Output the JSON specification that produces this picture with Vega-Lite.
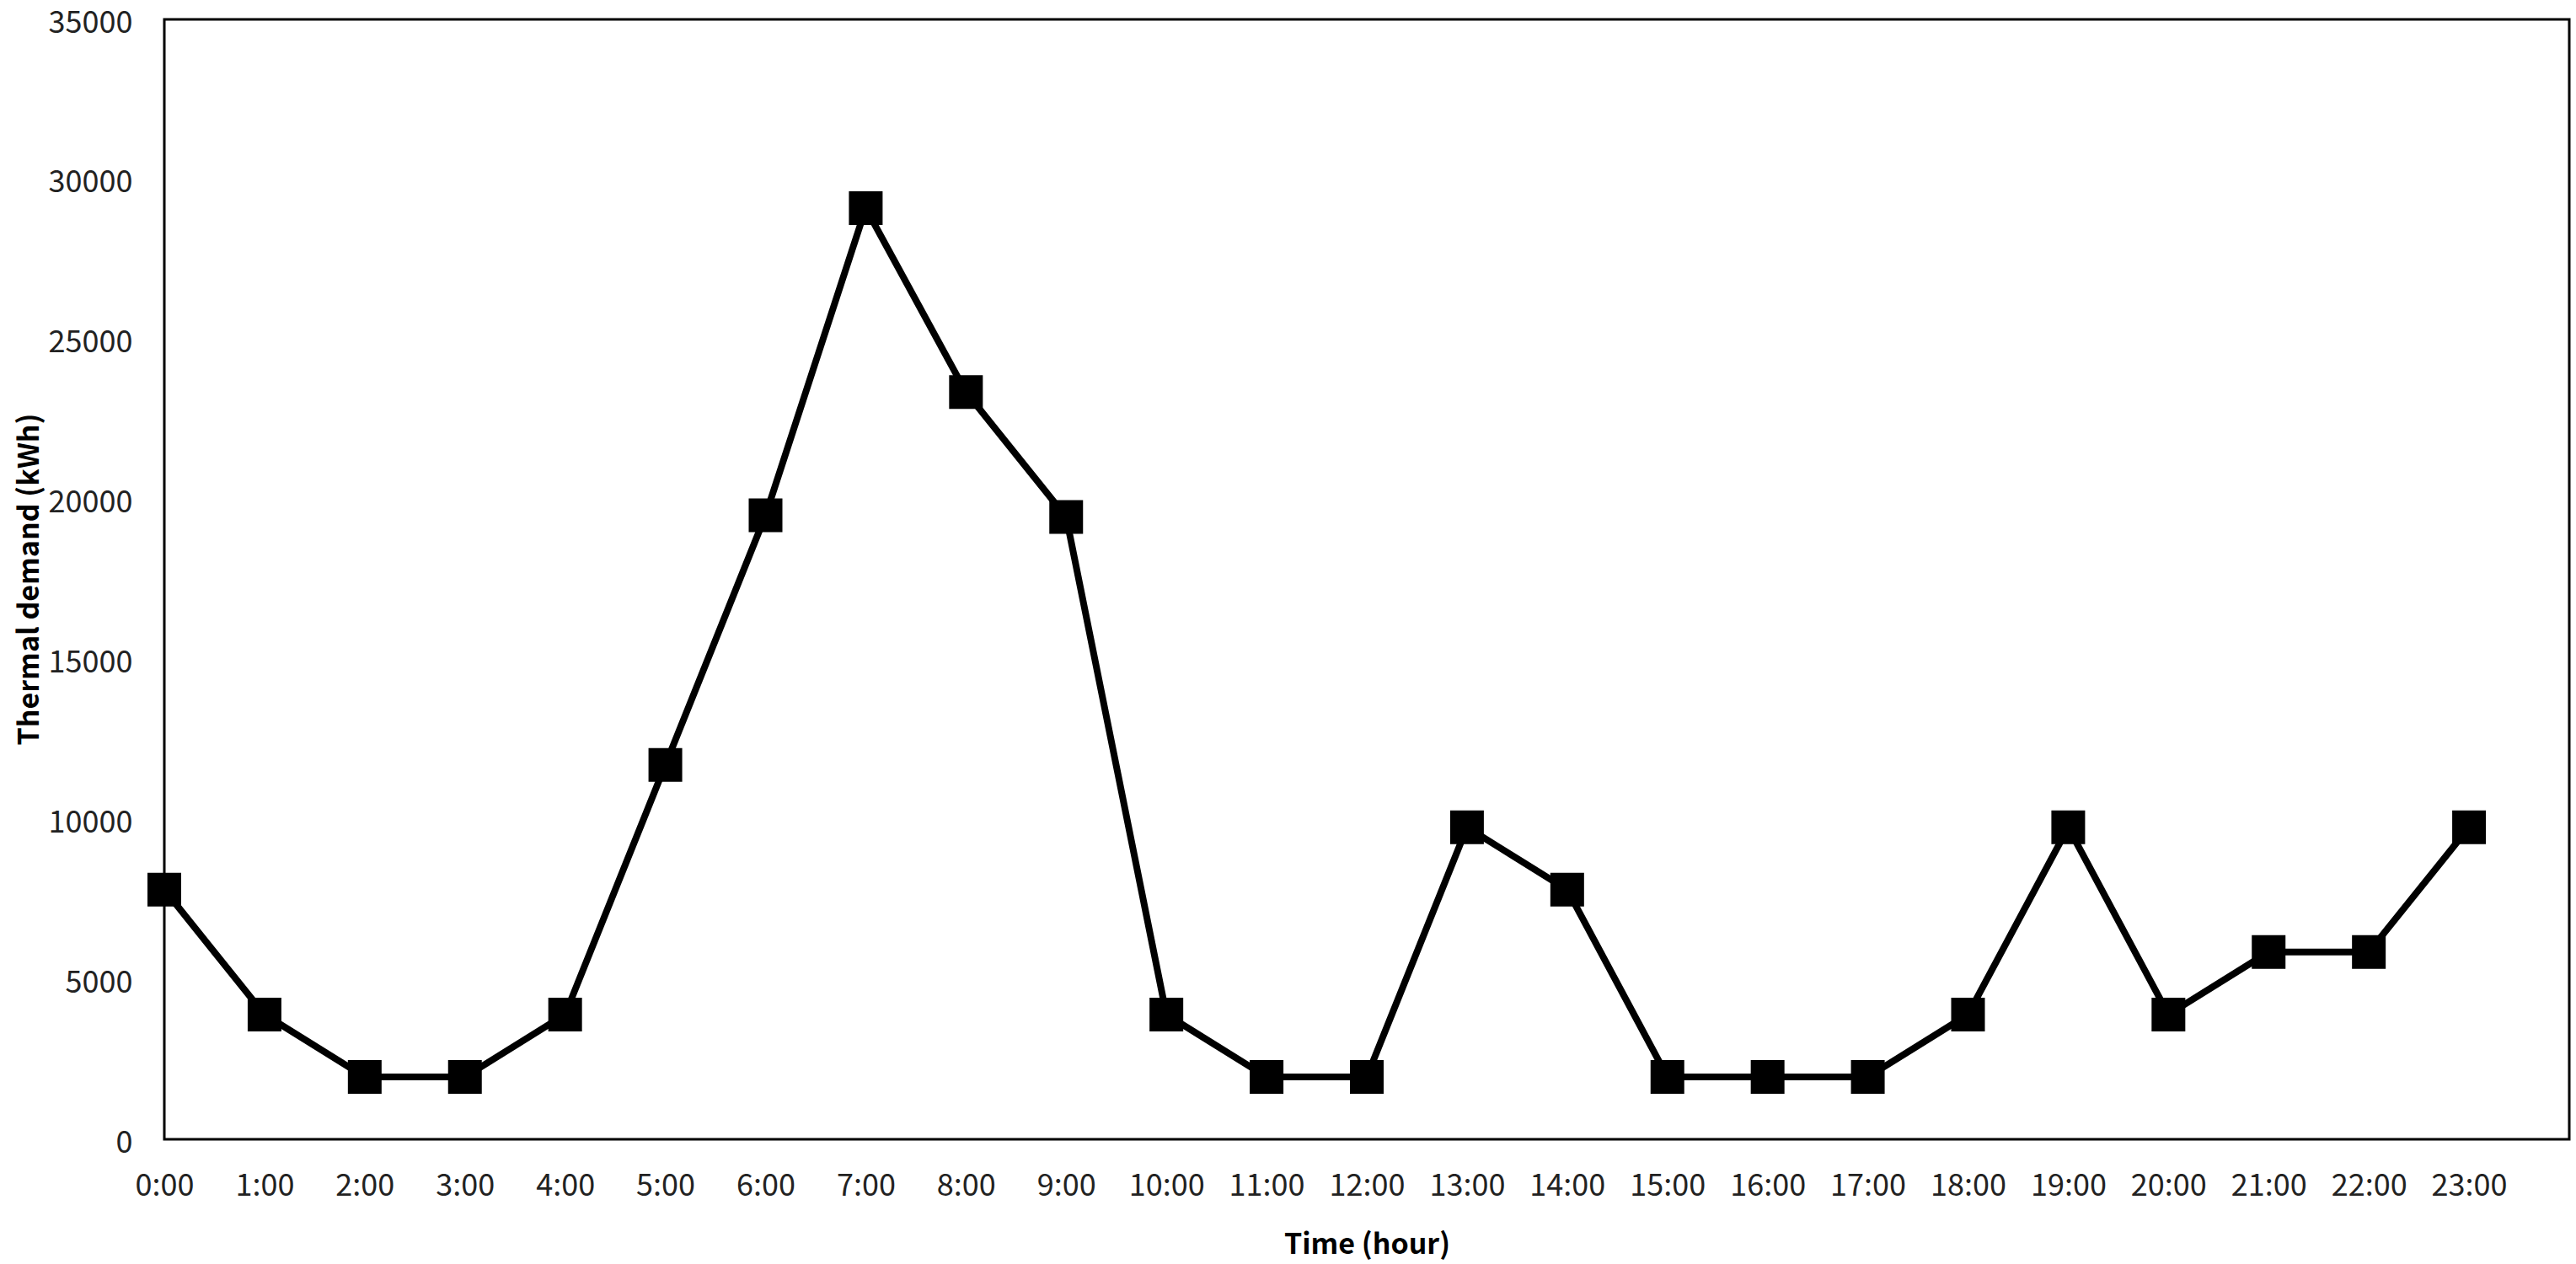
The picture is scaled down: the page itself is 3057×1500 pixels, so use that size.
{
  "$schema": "https://vega.github.io/schema/vega-lite/v6.json",
  "autosize": "none",
  "width": 2854,
  "height": 1329,
  "padding": {"left": 195, "top": 23, "right": 8, "bottom": 148},
  "background": "white",
  "config": {
    "font": "Noto Sans CJK KR",
    "view": {"stroke": "black", "strokeWidth": 3},
    "axis": {"grid": false, "ticks": false, "domain": false, "labelColor": "#222", "titleColor": "black", "labelFontSize": 36, "titleFontSize": 34, "titleFontWeight": "bold"}
  },
  "data": {"values": [
    {"hour": 0, "demand": 7800},
    {"hour": 1, "demand": 3900},
    {"hour": 2, "demand": 1950},
    {"hour": 3, "demand": 1950},
    {"hour": 4, "demand": 3900},
    {"hour": 5, "demand": 11700},
    {"hour": 6, "demand": 19500},
    {"hour": 7, "demand": 29100},
    {"hour": 8, "demand": 23350},
    {"hour": 9, "demand": 19450},
    {"hour": 10, "demand": 3900},
    {"hour": 11, "demand": 1950},
    {"hour": 12, "demand": 1950},
    {"hour": 13, "demand": 9750},
    {"hour": 14, "demand": 7800},
    {"hour": 15, "demand": 1950},
    {"hour": 16, "demand": 1950},
    {"hour": 17, "demand": 1950},
    {"hour": 18, "demand": 3900},
    {"hour": 19, "demand": 9750},
    {"hour": 20, "demand": 3900},
    {"hour": 21, "demand": 5850},
    {"hour": 22, "demand": 5850},
    {"hour": 23, "demand": 9750}
  ]},
  "encoding": {
    "x": {"field": "hour", "type": "quantitative",
      "scale": {"domain": [0, 24], "nice": false, "zero": false},
      "axis": {"title": "Time (hour)", "values": [0,1,2,3,4,5,6,7,8,9,10,11,12,13,14,15,16,17,18,19,20,21,22,23],
        "labelExpr": "datum.value + ':00'", "labelPadding": 38, "titlePadding": 35, "labelFlush": false}},
    "y": {"field": "demand", "type": "quantitative",
      "scale": {"domain": [0, 35000], "nice": false},
      "axis": {"title": "Thermal demand (kWh)", "values": [0,5000,10000,15000,20000,25000,30000,35000],
        "format": "d", "labelPadding": 38, "labelOffset": 4, "labelFlush": false,
        "titleX": -160, "titleY": 664, "titleAngle": 270, "titleAlign": "center", "titleBaseline": "middle"}}
  },
  "layer": [
    {"mark": {"type": "line", "color": "black", "strokeWidth": 8}},
    {"mark": {"type": "point", "shape": "square", "filled": true, "color": "black", "opacity": 1, "size": 1600}}
  ]
}
